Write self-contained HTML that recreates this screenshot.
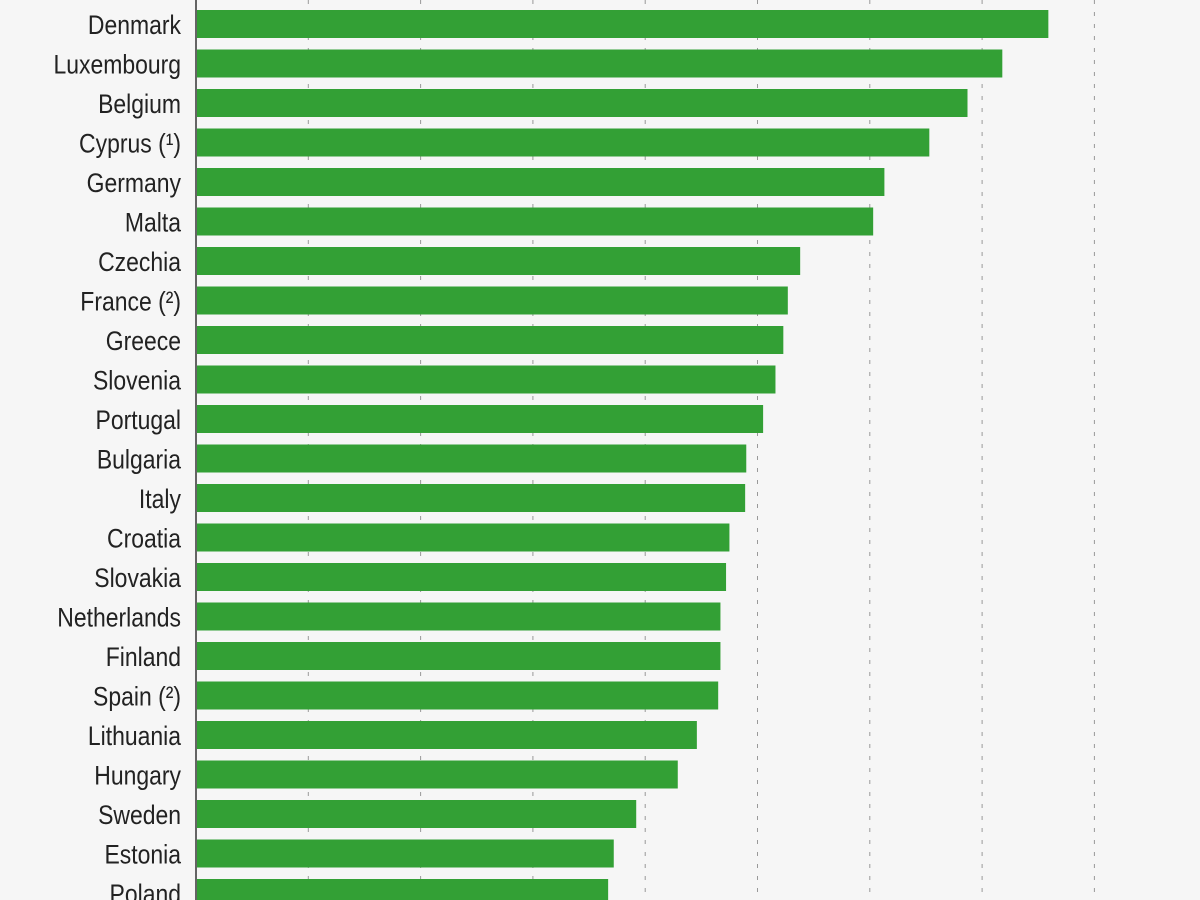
<!DOCTYPE html>
<html><head><meta charset="utf-8"><style>
html,body{margin:0;padding:0;background:#f6f6f6;}
svg{display:block;}
text{font-family:"Liberation Sans",sans-serif;font-size:27px;fill:#222;}
</style></head><body>
<svg id="chart" width="1200" height="900" viewBox="0 0 1200 900">
<rect width="1200" height="900" fill="#f6f6f6"/>
<g id="grid"></g>
<g id="bars"></g>
<g id="labels"></g>
<line x1="196" y1="0" x2="196" y2="900" stroke="#333" stroke-width="1.5"/>
</svg>
<script>
const categories=["Denmark","Luxembourg","Belgium","Cyprus (¹)","Germany","Malta","Czechia","France (²)","Greece","Slovenia","Portugal","Bulgaria","Italy","Croatia","Slovakia","Netherlands","Finland","Spain (²)","Lithuania","Hungary","Sweden","Estonia","Poland"];
const values=[75.9,71.8,68.7,65.3,61.3,60.3,53.8,52.7,52.3,51.6,50.5,49.0,48.9,47.5,47.2,46.7,46.7,46.5,44.6,42.9,39.2,37.2,36.7];
const gridTicks=[10,20,30,40,50,60,70,80];
const NS="http://www.w3.org/2000/svg";
const x0=196, unit=11.23;
function xs(v){return x0+v*unit;}
function ys(i){return 10+i*39.5;}
const g=document.getElementById('grid'),b=document.getElementById('bars'),l=document.getElementById('labels');
gridTicks.forEach(t=>{
  const ln=document.createElementNS(NS,'line');
  
  
  ln.setAttribute('x1',xs(t));ln.setAttribute('x2',xs(t));
  ln.setAttribute('y1',0);ln.setAttribute('y2',900);
  ln.setAttribute('stroke','#999');ln.setAttribute('stroke-width','1');
  ln.setAttribute('stroke-dasharray','4,8');
  g.appendChild(ln);
});
categories.forEach((c,i)=>{
  const r=document.createElementNS(NS,'rect');
  
  
  r.setAttribute('x',x0+1);r.setAttribute('y',ys(i));
  r.setAttribute('width',xs(values[i])-x0-1);r.setAttribute('height',28);
  r.setAttribute('fill','#33a035');
  b.appendChild(r);
  const t=document.createElementNS(NS,'text');
  
  
  t.setAttribute('x',0);t.setAttribute('y',0);
  t.setAttribute('text-anchor','end');
  t.setAttribute('transform','translate(181,'+(ys(i)+24)+') scale(0.85,1)');
  t.textContent=c;
  l.appendChild(t);
});
</script>
</body></html>
